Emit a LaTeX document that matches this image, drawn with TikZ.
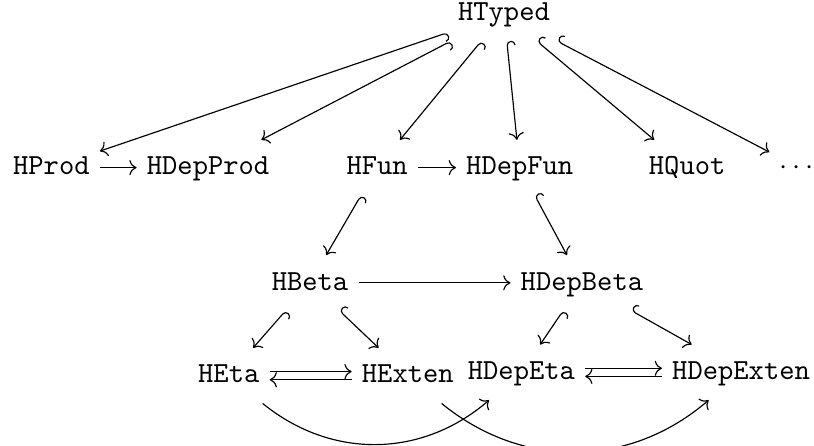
\documentclass[tikz,border=0pt]{standalone}
\usepackage{amsmath}
\usepackage{amssymb}
\usepackage{tikz}
\usetikzlibrary{arrows.meta}
\tikzset{>/.tip={Computer Modern Rightarrow},
  obj/.style={font=\ttfamily, anchor=base, text height=8.5pt, text depth=3.5pt},
  incl/.style={{Hooks[right,scale=1.25]}->}}

\begin{document}
\begin{tikzpicture}[every node/.style={obj}]
\useasboundingbox (0,0) rectangle (9.82,5.38);
\node (typed) at (6.08,5.13) {HTyped};
\node (prod) at (0.62,3.27) {HProd};
\node (depprod) at (2.51,3.27) {HDepProd};
\node (fun) at (4.55,3.27) {HFun};
\node (depfun) at (6.27,3.27) {HDepFun};
\node (quot) at (8.29,3.27) {HQuot};
\node (more) at (9.64,3.27) {$\cdots$};
\node (beta) at (3.74,1.88) {HBeta};
\node (depbeta) at (7.02,1.88) {HDepBeta};
\node (eta) at (2.76,0.76) {HEta};
\node (exten) at (4.92,0.76) {HExten};
\node (depeta) at (6.29,0.80) {HDepEta};
\node (depexten) at (8.94,0.80) {HDepExten};

\draw[incl] (typed) to (prod);
\draw[incl] (typed) to (depprod);
\draw[incl] (typed) to (fun);
\draw[incl] (typed) to (depfun);
\draw[incl] (typed) to (quot);
\draw[incl] (typed) to (more);
\draw[->] (prod) to (depprod);
\draw[->] (fun) to (depfun);
\draw[incl] (fun) to (beta);
\draw[incl] (depfun) to (depbeta);
\draw[->] (beta) to (depbeta);
\draw[incl] (beta) to (eta);
\draw[incl] (beta) to (exten);
\draw[incl] (depbeta) to (depeta);
\draw[incl] (depbeta) to (depexten);
\draw[->] ([yshift=1.4pt]eta.east) to ([yshift=1.4pt]exten.west);
\draw[->] ([yshift=-1.4pt]exten.west) to ([yshift=-1.4pt]eta.east);
\draw[->] ([yshift=1.4pt]depeta.east) to ([yshift=1.4pt]depexten.west);
\draw[->] ([yshift=-1.4pt]depexten.west) to ([yshift=-1.4pt]depeta.east);
\draw[->] (eta) to[bend right=40] (depeta);
\draw[->] (exten) to[bend right=40] (depexten);
\end{tikzpicture}
\end{document}
